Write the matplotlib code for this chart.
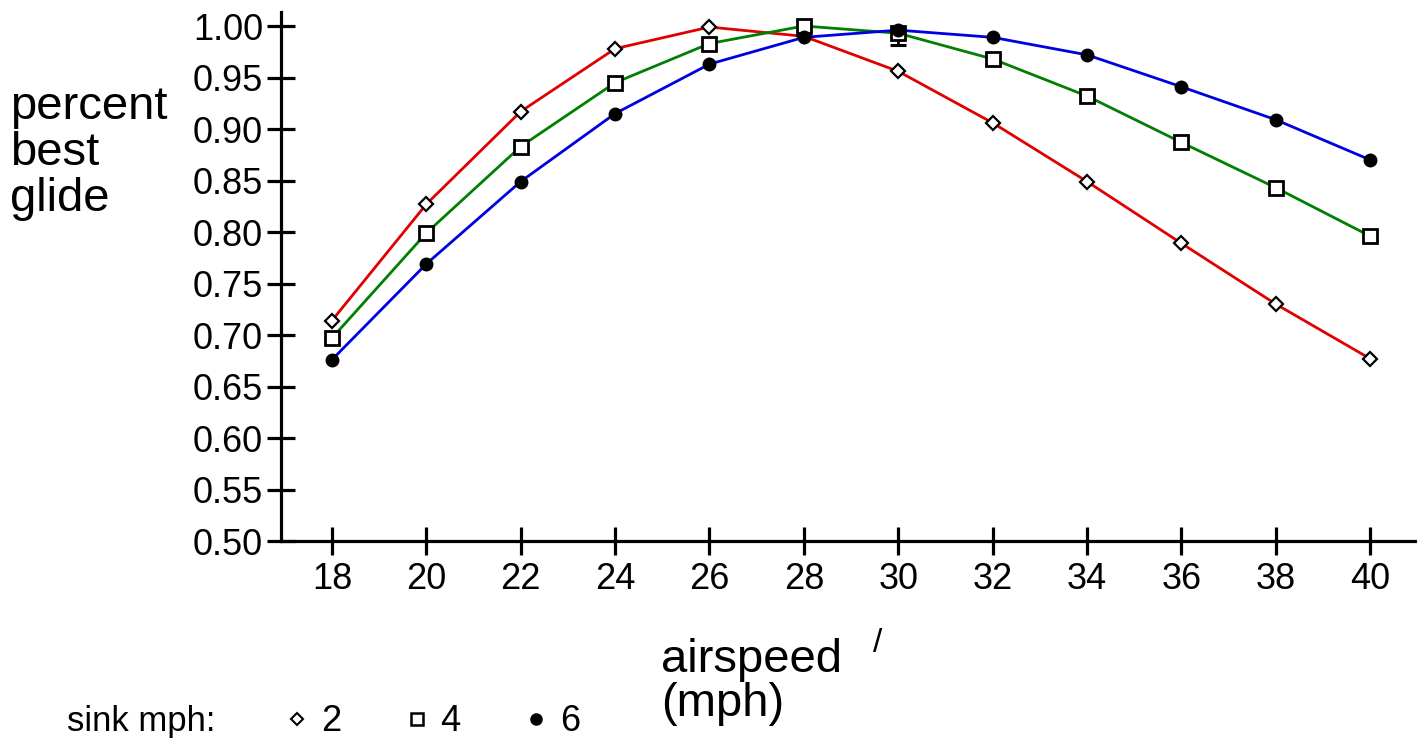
import numpy as np
import matplotlib.pyplot as plt
from matplotlib.lines import Line2D

plt.rcParams['font.family'] = ['Liberation Sans', 'DejaVu Sans']

# airspeed (mph)
airspeed = [18, 20, 22, 24, 26, 28, 30, 32, 34, 36, 38, 40]
# percent of best glide for each sink rate
sink2 = [0.714, 0.827, 0.917, 0.978, 0.999, 0.990, 0.956, 0.906, 0.849, 0.789, 0.730, 0.677]
sink4 = [0.697, 0.799, 0.883, 0.945, 0.983, 1.000, 0.993, 0.968, 0.932, 0.887, 0.843, 0.796]
sink6 = [0.676, 0.769, 0.849, 0.915, 0.963, 0.989, 0.996, 0.989, 0.972, 0.941, 0.909, 0.870]
sink_labels = ['2', '4', '6']
yticks = [0.50, 0.55, 0.60, 0.65, 0.70, 0.75, 0.80, 0.85, 0.90, 0.95, 1.00]

fig = plt.figure(figsize=(14.27, 7.41), dpi=100)
ax = fig.add_axes([0.1969, 0.2699, 0.7947, 0.7139])

ax.plot(airspeed, sink2, color='#e00000', lw=2, zorder=2)
ax.plot(airspeed, sink4, color='#008000', lw=2, zorder=2)
ax.plot(airspeed, sink6, color='#0000e0', lw=2, zorder=2)

ax.plot(airspeed, sink2, ls='none', marker='D', ms=7, mfc='white', mec='black', mew=1.6, zorder=4)
ax.plot(airspeed, sink4, ls='none', marker='s', ms=10, mfc='white', mec='black', mew=2, zorder=4)
ax.plot(airspeed, sink6, ls='none', marker='o', ms=9, mfc='black', mec='black', mew=1, zorder=4)

# little error bar on the 30 mph point of the sink 6 series
i30 = airspeed.index(30)
ax.errorbar([airspeed[i30]], [sink6[i30]], yerr=[[0.014], [0]], fmt='none',
            ecolor='black', elinewidth=2, capsize=6, capthick=2.2, zorder=3)

ax.set_xlim(16.92, 40.95)
ax.set_ylim(0.5, 1.0136)
ax.set_xticks(airspeed)
ax.set_yticks(yticks)
ax.set_yticklabels(['%.2f' % v for v in yticks])

for s in ['top', 'right']:
    ax.spines[s].set_visible(False)
for s in ['left', 'bottom']:
    ax.spines[s].set_linewidth(2.3)

ax.tick_params(axis='both', direction='inout', length=20, width=2.3, labelsize=26)
ax.tick_params(axis='y', pad=3)
ax.tick_params(axis='x', pad=5)

fig.text(0.007, 0.7935, 'percent\nbest\nglide', fontsize=34, va='center', ha='left', linespacing=1.07)
fig.text(0.463, 0.080, 'airspeed\n(mph)', fontsize=34, va='center', ha='left', linespacing=1.0)
fig.text(0.612, 0.132, '/', fontsize=24, va='center', ha='left')

fig.text(0.047, 0.026, 'sink mph:', fontsize=25, va='center', ha='left')
handles = [
    Line2D([], [], ls='none', marker='D', ms=6, mfc='white', mec='black', mew=1.5),
    Line2D([], [], ls='none', marker='s', ms=9, mfc='white', mec='black', mew=1.8),
    Line2D([], [], ls='none', marker='o', ms=8, mfc='black', mec='black'),
]
fig.legend(handles, sink_labels, loc='center left', bbox_to_anchor=(0.202, 0.026), ncol=3,
           frameon=False, fontsize=26, handlelength=0.5, handletextpad=0.4, columnspacing=1.85,
           borderpad=0, borderaxespad=0)

fig.savefig('out.png', dpi=100)
